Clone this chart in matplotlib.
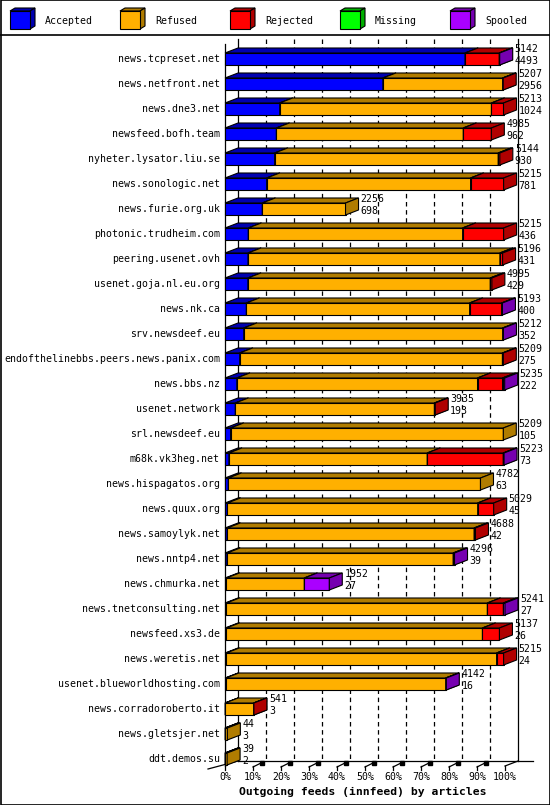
import numpy as np
import matplotlib
matplotlib.use("Agg")
import matplotlib.pyplot as plt
from matplotlib.patches import Polygon, Rectangle

# feed names, top to bottom
hosts = [
    "news.tcpreset.net", "news.netfront.net", "news.dne3.net", "newsfeed.bofh.team",
    "nyheter.lysator.liu.se", "news.sonologic.net", "news.furie.org.uk",
    "photonic.trudheim.com", "peering.usenet.ovh", "usenet.goja.nl.eu.org",
    "news.nk.ca", "srv.newsdeef.eu", "endofthelinebbs.peers.news.panix.com",
    "news.bbs.nz", "usenet.network", "srl.newsdeef.eu", "m68k.vk3heg.net",
    "news.hispagatos.org", "news.quux.org", "news.samoylyk.net", "news.nntp4.net",
    "news.chmurka.net", "news.tnetconsulting.net", "newsfeed.xs3.de",
    "news.weretis.net", "usenet.blueworldhosting.com", "news.corradoroberto.it",
    "news.gletsjer.net", "ddt.demos.su",
]
totals = [5142, 5207, 5213, 4985, 5144, 5215, 2256, 5215, 5196, 4995, 5193, 5212,
          5209, 5235, 3935, 5209, 5223, 4782, 5029, 4688, 4296, 1952, 5241, 5137,
          5215, 4142, 541, 44, 39]
accepted = [4493, 2956, 1024, 962, 930, 781, 698, 436, 431, 429, 400, 352, 275, 222,
            193, 105, 73, 63, 45, 42, 39, 27, 27, 26, 24, 16, 3, 3, 2]
refused = [0, 2241, 3964, 3498, 4184, 3816, 1558, 4012, 4715, 4536, 4179, 4845, 4919,
           4505, 3727, 5104, 3712, 4719, 4685, 4621, 4232, 1457, 4884, 4793, 5060,
           4116, 535, 41, 37]
rejected = [640, 10, 225, 525, 30, 618, 0, 767, 50, 30, 599, 0, 15, 468, 15, 0, 1423,
            0, 299, 25, 0, 0, 300, 318, 131, 0, 3, 0, 0]
missing = [0] * len(hosts)
spooled = [9, 0, 0, 0, 0, 0, 0, 0, 0, 0, 15, 15, 0, 40, 0, 0, 15, 0, 0, 0, 25, 468,
           30, 0, 0, 10, 0, 0, 0]

series_names = ["Accepted", "Refused", "Rejected", "Missing", "Spooled"]
front_colors = ["#0000ff", "#ffb000", "#ff0000", "#00ff00", "#aa00ff"]
dark_colors = ["#0000b0", "#b07c00", "#b00000", "#00b000", "#7600b0"]
ticks = list(range(0, 101, 10))
title = "Outgoing feeds (innfeed) by articles"

W, H = 550, 805
plt.rcParams["font.family"] = ["DejaVu Sans Mono"]
FS = 7.1

fig = plt.figure(figsize=(W / 100, H / 100), dpi=100)

# frame + legend in pixel coordinates
bg = fig.add_axes([0, 0, 1, 1])
bg.set_xlim(0, W)
bg.set_ylim(H, 0)
bg.axis("off")
bg.add_patch(Rectangle((0.5, 0.5), W - 1, H - 1, fill=False, ec="black", lw=1.2))
bg.plot([0, W], [35, 35], color="black", lw=1.2)

for i, name in enumerate(series_names):
    x0, y0 = 10 + 110 * i, 11
    bw, bh, ddx, ddy = 20, 18, 5, 3
    bg.add_patch(Polygon([(x0, y0), (x0 + bw, y0), (x0 + bw + ddx, y0 - ddy), (x0 + ddx, y0 - ddy)],
                         fc=dark_colors[i], ec="black", lw=0.8))
    bg.add_patch(Polygon([(x0 + bw, y0), (x0 + bw, y0 + bh), (x0 + bw + ddx, y0 + bh - ddy),
                          (x0 + bw + ddx, y0 - ddy)], fc=dark_colors[i], ec="black", lw=0.8))
    bg.add_patch(Rectangle((x0, y0), bw, bh, fc=front_colors[i], ec="black", lw=0.8))
    bg.text(x0 + 35, y0 + bh / 2 + 1, name, fontsize=FS, va="center", ha="left")

# main chart: x in percent, y in rows
left_px, right_px, top_px, bot_px = 225, 505, 44, 766
row0_px, row_step = 59, 25
ax = fig.add_axes([left_px / W, 1 - bot_px / H, (right_px - left_px) / W, (bot_px - top_px) / H])
ax.set_xlim(0, 100)
ytop = (top_px - row0_px) / row_step
ybot = (bot_px - row0_px) / row_step
ax.set_ylim(ybot, ytop)
ax.axis("off")

px_x = 100 / (right_px - left_px)
px_y = 1 / row_step
dx = 13 * px_x
dy = -5 * px_y
hh = 6 * px_y

# back wall
ax.plot([dx, dx], [ytop + dy, ybot + dy], color="black", lw=0.9, clip_on=False, zorder=1)
ax.plot([100 + dx, 100 + dx], [ytop + dy, ybot + dy], color="black", lw=0.9, clip_on=False, zorder=1)
for t in ticks[1:-1]:
    ax.plot([t + dx, t + dx], [ytop + dy, ybot + dy], color="black", lw=0.9,
            dashes=(3.6, 2.9), clip_on=False, zorder=1)
ax.plot([0, 0], [ytop, ybot], color="black", lw=0.9, clip_on=False, zorder=1)

# floor
ax.plot([dx, 100 + dx + 15 * px_x], [ybot + dy, ybot + dy], color="black", lw=0.9, clip_on=False, zorder=1)
ax.plot([-17 * px_x, dx], [ybot + 3 * px_y, ybot + dy], color="black", lw=0.9, clip_on=False, zorder=1)
ax.plot([100, 100 + dx], [ybot, ybot + dy], color="black", lw=0.9, clip_on=False, zorder=1)
for t in ticks:
    ax.plot([t, t], [ybot, ybot + 4 * px_y], color="black", lw=0.9, clip_on=False, zorder=1)
    if 0 < t < 100:
        ax.plot([t, t + 9 * px_x], [ybot + 1 * px_y, ybot + dy + 1.5 * px_y], color="black",
                lw=0.9, clip_on=False, zorder=1)
        ax.plot([t + 9 * px_x], [ybot + dy + 1.5 * px_y], marker="s", ms=2.2, color="black",
                clip_on=False, zorder=1)
    ax.text(t, ybot + 11 * px_y, f"{t}%", fontsize=FS, ha="center", va="center")

ax.text(50 - 2 * px_x, ybot + 26 * px_y, title, fontsize=8.2, fontweight="bold",
        ha="center", va="center", clip_on=False)

max_total = max(totals)
segs = np.array([accepted, refused, rejected, missing, spooled], dtype=float).T

for r, host in enumerate(hosts):
    c = r
    start = 0.0
    z = 2 + r * 0.01
    for k in range(5):
        w = segs[r, k] / max_total * 100
        if w <= 0:
            continue
        e = start + w
        yt = c - hh
        yb = c + hh
        ax.add_patch(Rectangle((start, yt), w, 2 * hh, fc=front_colors[k], ec="black",
                               lw=0.8, clip_on=False, zorder=z))
        ax.add_patch(Polygon([(start, yt), (e, yt), (e + dx, yt + dy), (start + dx, yt + dy)],
                             fc=dark_colors[k], ec="black", lw=0.8, clip_on=False, zorder=z))
        ax.add_patch(Polygon([(e, yt), (e, yb), (e + dx, yb + dy), (e + dx, yt + dy)],
                             fc=dark_colors[k], ec="black", lw=0.8, clip_on=False, zorder=z))
        start = e
    end = totals[r] / max_total * 100
    ax.text(-5 * px_x, c, host, fontsize=FS, ha="right", va="center", clip_on=False)
    ax.text(end + dx + 2 * px_x, c - 10 * px_y, str(totals[r]), fontsize=FS,
            ha="left", va="center", clip_on=False, zorder=5)
    ax.text(end + dx + 2 * px_x, c + 2 * px_y, str(accepted[r]), fontsize=FS,
            ha="left", va="center", clip_on=False, zorder=5)

fig.savefig("out.png", dpi=100)
